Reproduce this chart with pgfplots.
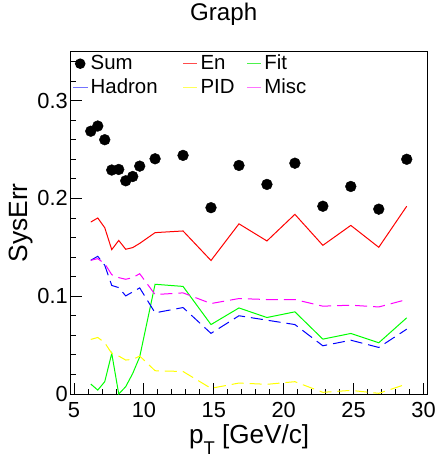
\documentclass[border=0pt]{standalone}
\usepackage{fontspec}
\setmainfont{Liberation Sans}
\usepackage{pgfplots}
\pgfplotsset{compat=1.18}
\usepackage{pgfplotstable}

\definecolor{cRed}{rgb}{1,0,0}
\definecolor{cGreen}{rgb}{0,1,0}
\definecolor{cBlue}{rgb}{0,0,1}
\definecolor{cYellow}{rgb}{1,1,0}
\definecolor{cMag}{rgb}{1,0,1}
\definecolor{lRed}{rgb}{1,0.3,0.3}
\definecolor{lGreen}{rgb}{0.3,0.95,0.3}
\definecolor{lBlue}{rgb}{0.45,0.45,1}
\definecolor{lYellow}{rgb}{1,1,0.35}
\definecolor{lMag}{rgb}{1,0.45,1}

\newcommand{\legline}[1]{%
  \pgfsetfillcolor{#1}%
  \pgfpathrectangle{\pgfqpoint{0bp}{4.8bp}}{\pgfqpoint{14.6bp}{1.4bp}}%
  \pgfusepath{fill}%
  \pgfpathmoveto{\pgfqpoint{0bp}{0bp}}\pgfpathlineto{\pgfqpoint{17.8bp}{0bp}}%
  \pgfusepath{use as bounding box}}

\pgfplotstableread{
x     sum    en     hadron pid    fit    misc
6.2   0.2687 0.1758 0.1367 0.0558 0.0102 0.1367
6.7   0.2740 0.1800 0.1408 0.0578 0.0040 0.1384
7.2   0.2600 0.1700 0.1316 0.0524 0.0126 0.1333
7.7   0.2290 0.1476 0.1110 0.0415 0.0415 0.1220
8.2   0.2296 0.1570 0.1088 0.0388 0.0000 0.1190
8.7   0.2180 0.1480 0.1003 0.0347 0.0075 0.1173
9.2   0.2224 0.1497 0.1044 0.0354 0.0210 0.1190
9.7   0.2330 0.1540 0.1085 0.0388 0.0380 0.1230
10.8  0.2405 0.1650 0.0830 0.0238 0.1122 0.1017
12.8  0.2440 0.1667 0.0884 0.0230 0.1100 0.1034
14.8  0.1905 0.1365 0.0620 0.0058 0.0710 0.0925
16.8  0.2337 0.1740 0.0800 0.0112 0.0880 0.0976
18.8  0.2143 0.1565 0.0755 0.0099 0.0782 0.0966
20.8  0.2360 0.1837 0.0710 0.0126 0.0840 0.0966
22.8  0.1920 0.1520 0.0493 0.0017 0.0561 0.0898
24.8  0.2122 0.1724 0.0550 0.0037 0.0619 0.0908
26.8  0.1890 0.1500 0.0476 0.0007 0.0524 0.0890
28.8  0.2400 0.1920 0.0663 0.0102 0.0779 0.0966
}\datatable

\begin{document}
\begin{tikzpicture}
\begin{axis}[
  scale only axis,
  width=357.2bp, height=342.3bp,
  at={(0,0)}, anchor=south west,
  xmin=4.75, xmax=30.3,
  ymin=0, ymax=0.35,
  xtick={5,10,15,20,25,30},
  ytick={0,0.1,0.2,0.3},
  yticklabels={0,0.1,0.2,0.3},
  minor xtick={5,6,...,30},
  minor ytick={0.02,0.04,0.06,0.08,0.12,0.14,0.16,0.18,0.22,0.24,0.26,0.28,0.32,0.34},
  tick pos=left,
  tick align=inside,
  major tick length=11bp,
  minor tick length=5.5bp,
  tick style={black, line width=0.8bp},
  axis line style={black, line width=0.9bp},
  /pgf/number format/assume math mode=true,
  tick label style={font=\fontsize{21.9}{26}\selectfont},
  xticklabel style={inner sep=0pt, yshift=-8bp},
  yticklabel style={inner sep=0pt, xshift=-2.5bp},
  xlabel={p\raisebox{-11bp}{\fontsize{18.5}{20}\selectfont T} [GeV/c]},
  xlabel style={at={(axis description cs:0.5,-0.1432)}, anchor=base, font=\fontsize{26.2}{30}\selectfont},
  ylabel={SysErr},
  ylabel style={at={(axis description cs:-0.121,0.5)}, anchor=base, font=\fontsize{26.5}{30}\selectfont},
  title={Graph},
  title style={at={(axis description cs:0.4289,1.073)}, anchor=base, font=\fontsize{24.2}{28}\selectfont},
  legend columns=3,
  legend style={at={(axis description cs:0.0062,0.9933)}, anchor=north west,
    draw=none, fill=none, inner sep=0pt, column sep=0pt, row sep=4bp,
    font=\fontsize{20.5}{24}\selectfont,
    nodes={inner sep=0pt, text height=15bp, text depth=5bp, anchor=base west}},
]
\addplot[only marks, mark=*, mark size=5.4bp, black,
  legend image code/.code={%
    \pgfsetfillcolor{black}%
    \pgfpathcircle{\pgfqpoint{7.3bp}{5.5bp}}{5.3bp}\pgfusepath{fill}%
    \pgfpathmoveto{\pgfqpoint{0bp}{0bp}}\pgfpathlineto{\pgfqpoint{17.8bp}{0bp}}%
    \pgfusepath{use as bounding box}}]
  table[x=x, y=sum] {\datatable};
\addlegendentry{\makebox[92bp][l]{Sum}}
\addplot[cRed, line width=1bp, no marks,
  legend image code/.code={\legline{lRed}}]
  table[x=x, y=en] {\datatable};
\addlegendentry{\makebox[46bp][l]{En}}
\addplot[cGreen, line width=1bp, no marks,
  legend image code/.code={\legline{lGreen}}]
  table[x=x, y=fit] {\datatable};
\addlegendentry{Fit}
\addplot[cBlue, line width=1bp, no marks, dash pattern=on 12bp off 6bp,
  legend image code/.code={\legline{lBlue}}]
  table[x=x, y=hadron] {\datatable};
\addlegendentry{\makebox[92bp][l]{Hadron}}
\addplot[cYellow, line width=1bp, no marks, dash pattern=on 12bp off 6bp,
  legend image code/.code={\legline{lYellow}}]
  table[x=x, y=pid] {\datatable};
\addlegendentry{\makebox[46bp][l]{PID}}
\addplot[cMag, line width=1bp, no marks, dash pattern=on 12bp off 6bp,
  legend image code/.code={\legline{lMag}}]
  table[x=x, y=misc] {\datatable};
\addlegendentry{Misc}
\end{axis}
\pgfresetboundingbox
\path[use as bounding box] (-70.5bp,-63bp) rectangle (366.5bp,394bp);
\end{tikzpicture}
\end{document}
